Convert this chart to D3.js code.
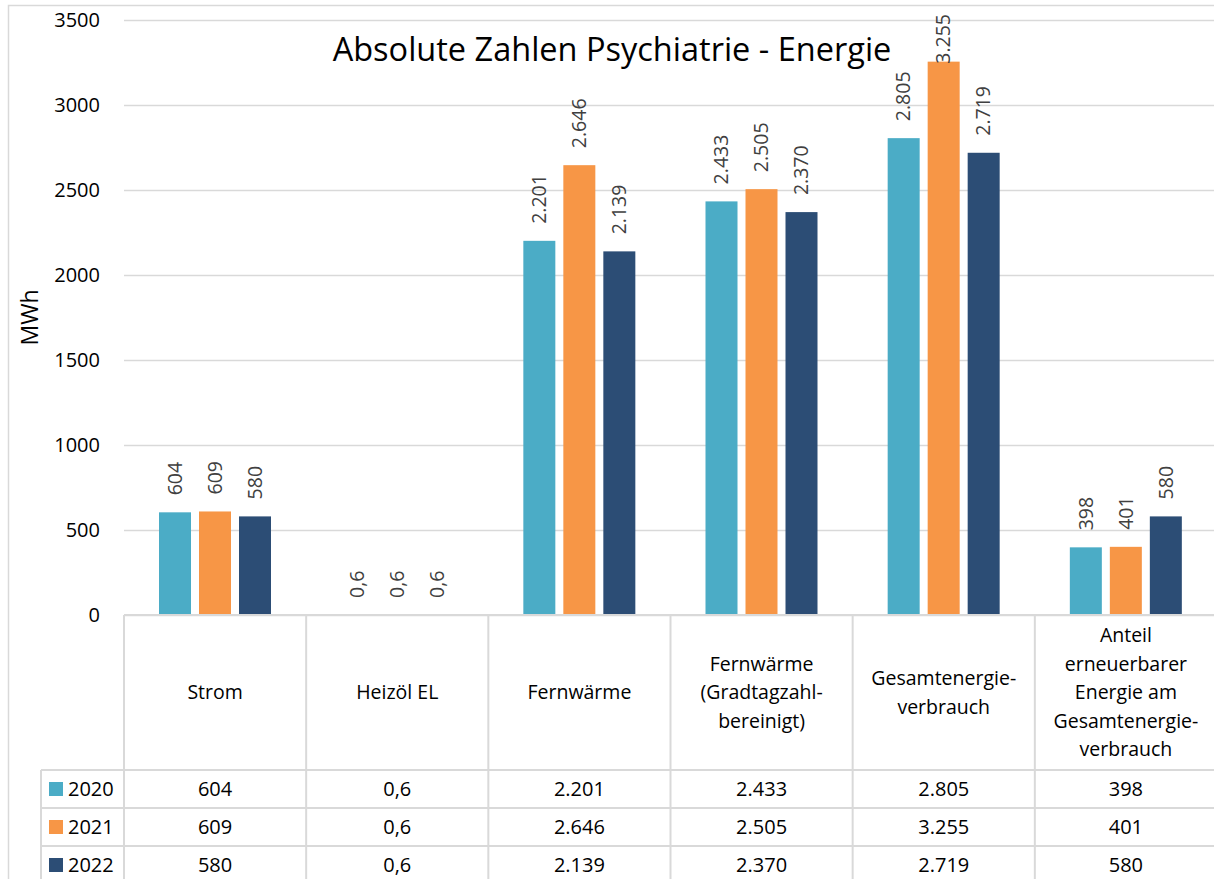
<!DOCTYPE html>
<html>
<head>
<meta charset="utf-8">
<script src="https://cdn.jsdelivr.net/npm/d3@7"></script>
<style>
  body { margin: 0; background: #fff; }
  svg { display: block; font-family: "Open Sans", sans-serif; }
</style>
</head>
<body>
<div id="chart"></div>
<script>
// data
var categories = ["Strom", "Heizöl EL", "Fernwärme", "Fernwärme\n(Gradtagzahl-\nbereinigt)",
  "Gesamtenergie-\nverbrauch", "Anteil\nerneuerbarer\nEnergie am\nGesamtenergie-\nverbrauch"];
var years = ["2020", "2021", "2022"];
var values2020 = [604, 0.6, 2201, 2433, 2805, 398];
var values2021 = [609, 0.6, 2646, 2505, 3255, 401];
var values2022 = [580, 0.6, 2139, 2370, 2719, 580];
var yTicks = [0, 500, 1000, 1500, 2000, 2500, 3000, 3500];
var colors = ["#4BACC6", "#F79646", "#2C4D75"];

var series = [values2020, values2021, values2022];

var width = 1214, height = 879;
var plot = { left: 124, right: 1217, top: 20, bottom: 615 };
var tableRows = [770, 808, 846, 884];
var legendLeft = 41;
var grid = "#D9D9D9";

var de = d3.formatLocale({ decimal: ",", thousands: ".", grouping: [3], currency: ["", "€"] });
function fmt(v) {
  return v < 1 ? de.format(",.1f")(v) : de.format(",.0f")(v);
}

var svg = d3.select("#chart").append("svg")
  .attr("width", width)
  .attr("height", height);

// chart border (extends past the cropped edges)
svg.append("rect")
  .attr("x", 8.5).attr("y", 5.5)
  .attr("width", width + 20).attr("height", height + 20)
  .attr("fill", "none").attr("stroke", grid).attr("stroke-width", 1.5);

var x0 = d3.scaleBand().domain(categories).range([plot.left, plot.right]).padding(0);
var x1 = d3.scaleBand().domain(years).range([35, 147]).paddingInner(0.2);
var y = d3.scaleLinear().domain([0, 3500]).range([plot.bottom, plot.top]);

// gridlines + y axis labels
var yAxis = d3.axisLeft(y).tickValues(yTicks).tickSize(-(width - plot.left)).tickPadding(24).tickFormat(d3.format("d"));
var gy = svg.append("g").attr("transform", "translate(" + plot.left + ",0)").call(yAxis);
gy.select(".domain").remove();
gy.selectAll(".tick line").attr("stroke", grid).attr("stroke-width", 1.5);
gy.selectAll(".tick text").attr("fill", "#000").style("font-size", "20px").style("font-family", "Open Sans");

svg.append("text")
  .attr("transform", "translate(30," + ((plot.top + plot.bottom) / 2) + ") rotate(-90)")
  .attr("text-anchor", "middle")
  .attr("dy", "0.35em")
  .style("font-size", "23px")
  .text("MWh");

// title
svg.append("text")
  .attr("x", 612).attr("y", 61)
  .attr("text-anchor", "middle")
  .style("font-size", "32.5px")
  .text("Absolute Zahlen Psychiatrie - Energie");

// bars
var groups = svg.selectAll(".cat").data(categories).enter().append("g")
  .attr("class", "cat")
  .attr("transform", function (d) { return "translate(" + x0(d) + ",0)"; });

groups.selectAll("rect")
  .data(function (d, i) {
    return years.map(function (yr, j) { return { year: yr, value: series[j][i], color: colors[j] }; });
  })
  .enter().append("rect")
  .attr("x", function (d) { return x1(d.year); })
  .attr("y", function (d) { return y(d.value); })
  .attr("width", x1.bandwidth())
  .attr("height", function (d) { return y(0) - y(d.value); })
  .attr("fill", function (d) { return d.color; });

// rotated data labels
groups.selectAll(".lbl")
  .data(function (d, i) {
    return years.map(function (yr, j) { return { year: yr, value: series[j][i] }; });
  })
  .enter().append("text")
  .attr("class", "lbl")
  .style("font-size", "19.5px")
  .attr("fill", "#404040")
  .attr("dy", "0.35em")
  .text(function (d) { return fmt(d.value); })
  .attr("transform", function (d) {
    var len = this.getComputedTextLength();
    var yy = Math.max(y(d.value) - 17, 14 + len);
    return "translate(" + (x1(d.year) + x1.bandwidth() / 2) + "," + yy + ") rotate(-90)";
  });

// data table
var tbl = svg.append("g").attr("stroke", grid).attr("stroke-width", 2);
tbl.append("line").attr("x1", plot.left).attr("x2", width).attr("y1", plot.bottom).attr("y2", plot.bottom);
tableRows.forEach(function (ry) {
  tbl.append("line").attr("x1", legendLeft).attr("x2", width).attr("y1", ry).attr("y2", ry);
});
categories.concat([null]).forEach(function (c, i) {
  var xx = plot.left + i * x0.bandwidth();
  tbl.append("line").attr("x1", xx).attr("x2", xx).attr("y1", plot.bottom).attr("y2", height);
});
tbl.append("line").attr("x1", legendLeft).attr("x2", legendLeft).attr("y1", tableRows[0]).attr("y2", height);

// category headers
var headerMid = (plot.bottom + tableRows[0]) / 2;
var lineH = 28.5;
categories.forEach(function (c) {
  var lines = c.split("\n");
  var t = svg.append("text")
    .attr("text-anchor", "middle")
    .style("font-size", "19.5px")
    .attr("fill", "#000");
  lines.forEach(function (ln, k) {
    t.append("tspan")
      .attr("x", x0(c) + x0.bandwidth() / 2)
      .attr("y", headerMid + (k - (lines.length - 1) / 2) * lineH)
      .attr("dy", "0.35em")
      .text(ln);
  });
});

// value rows with legend keys
years.forEach(function (yr, j) {
  var cy = (tableRows[j] + tableRows[j + 1]) / 2;
  svg.append("rect")
    .attr("x", 49).attr("y", cy - 7).attr("width", 14).attr("height", 14)
    .attr("fill", colors[j]);
  svg.append("text")
    .attr("x", 68).attr("y", cy).attr("dy", "0.35em")
    .style("font-size", "20px")
    .text(yr);
  categories.forEach(function (c, i) {
    svg.append("text")
      .attr("x", x0(c) + x0.bandwidth() / 2)
      .attr("y", cy).attr("dy", "0.35em")
      .attr("text-anchor", "middle")
      .style("font-size", "20px")
      .text(fmt(series[j][i]));
  });
});
</script>
</body>
</html>
